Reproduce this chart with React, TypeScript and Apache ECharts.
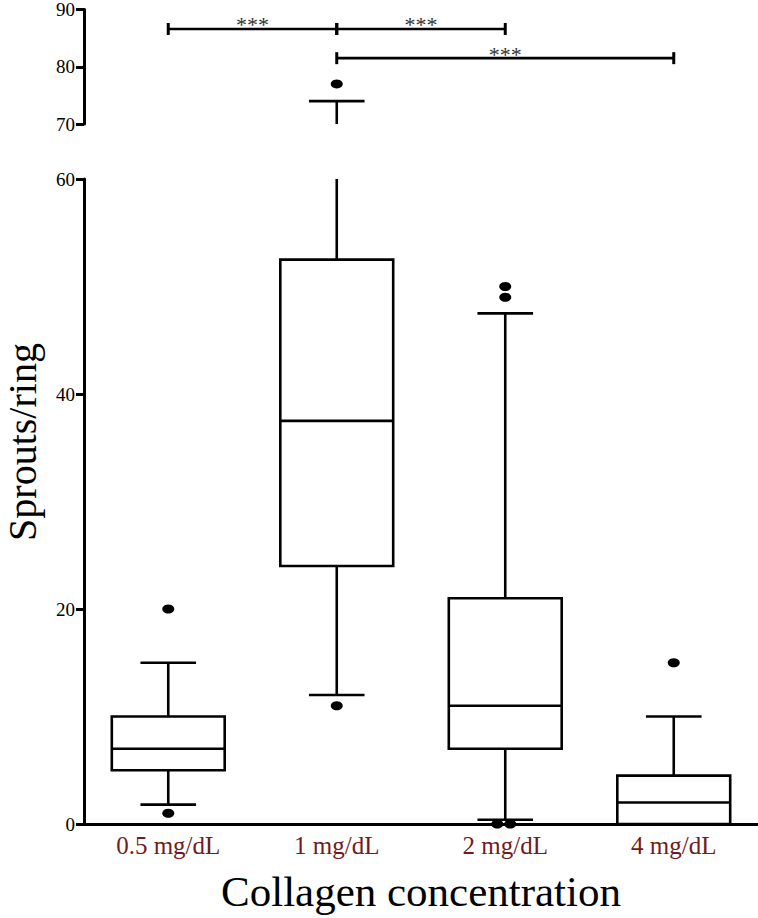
import React, { useEffect, useRef } from 'react';
import * as echarts from 'echarts';

// ---- data ----
const categories = ['0.5 mg/dL', '1 mg/dL', '2 mg/dL', '4 mg/dL'];
const whiskerLow = [1.8, 12, 0.4, 0];
const q1 = [5, 24, 7, 0];
const median = [7, 37.5, 11, 2];
const q3 = [10, 52.5, 21, 4.5];
const whiskerHigh = [15, 74, 47.5, 10];

const outlierCategory = [0, 0, 1, 1, 2, 2, 2, 2, 3];
const outlierValue = [20, 1, 77, 11, 50, 49, 0, 0, 15];

const lowerMin = 0;
const lowerMax = 60;
const lowerInterval = 20;
const upperMin = 70;
const upperMax = 90;
const upperInterval = 10;

const bracketFrom = [0, 1, 1];
const bracketTo = [1, 2, 3];
const bracketValue = [86.6, 86.6, 81.5];
const bracketLabel = ['***', '***', '***'];

const xTitle = 'Collagen concentration';
const yTitle = 'Sprouts/ring';

// ---- style ----
const FONT = '"Liberation Serif", "Times New Roman", serif';
const LW = 2.6;
const jitterPx: Record<number, number> = { 6: -8, 7: 5 };

export default function App() {
  const ref = useRef<HTMLDivElement>(null);

  useEffect(() => {
    if (!ref.current) return;
    const chart = echarts.init(ref.current, undefined, { renderer: 'svg' });

    const boxData = categories.map((_, i) => [i, whiskerLow[i], q1[i], median[i], q3[i], whiskerHigh[i]]);

    const lineStyle = { stroke: '#000', lineWidth: LW };

    const renderLower = (params: any, api: any) => {
      const i = api.value(0);
      const lo = api.value(1), b1 = api.value(2), md = api.value(3), b3 = api.value(4), hi = api.value(5);
      const band = api.size([1, 0])[0];
      const bw = band * 0.67;
      const cw = band * 0.33;
      const pLo = api.coord([i, lo]);
      const p1 = api.coord([i, b1]);
      const pm = api.coord([i, md]);
      const p3 = api.coord([i, b3]);
      const pHi = api.coord([i, Math.min(hi, lowerMax)]);
      const x = p1[0];
      const children: any[] = [];
      children.push({ type: 'line', shape: { x1: x, y1: p3[1], x2: x, y2: pHi[1] }, style: lineStyle });
      if (hi <= lowerMax) {
        children.push({ type: 'line', shape: { x1: x - cw / 2, y1: pHi[1], x2: x + cw / 2, y2: pHi[1] }, style: lineStyle });
      }
      if (lo < b1) {
        children.push({ type: 'line', shape: { x1: x, y1: p1[1], x2: x, y2: pLo[1] }, style: lineStyle });
        children.push({ type: 'line', shape: { x1: x - cw / 2, y1: pLo[1], x2: x + cw / 2, y2: pLo[1] }, style: lineStyle });
      }
      children.push({
        type: 'rect',
        shape: { x: x - bw / 2, y: p3[1], width: bw, height: p1[1] - p3[1] },
        style: { stroke: '#000', lineWidth: LW, fill: '#fff' },
      });
      children.push({ type: 'line', shape: { x1: x - bw / 2, y1: pm[1], x2: x + bw / 2, y2: pm[1] }, style: lineStyle });
      return { type: 'group', children };
    };

    const renderUpper = (params: any, api: any) => {
      const i = api.value(0);
      const b3 = api.value(4), hi = api.value(5);
      if (hi <= upperMin) return { type: 'group', children: [] };
      const band = api.size([1, 0])[0];
      const cw = band * 0.33;
      const pA = api.coord([i, Math.max(b3, upperMin)]);
      const pHi = api.coord([i, hi]);
      const x = pA[0];
      return {
        type: 'group',
        children: [
          { type: 'line', shape: { x1: x, y1: pA[1], x2: x, y2: pHi[1] }, style: lineStyle },
          { type: 'line', shape: { x1: x - cw / 2, y1: pHi[1], x2: x + cw / 2, y2: pHi[1] }, style: lineStyle },
        ],
      };
    };

    const bracketData = bracketFrom.map((f, k) => [f, bracketTo[k], bracketValue[k]]);
    const renderBracket = (params: any, api: any) => {
      const a = api.coord([api.value(0), api.value(2)]);
      const b = api.coord([api.value(1), api.value(2)]);
      const h = 6;
      return {
        type: 'group',
        children: [
          { type: 'line', shape: { x1: a[0], y1: a[1], x2: b[0], y2: b[1] }, style: lineStyle },
          { type: 'line', shape: { x1: a[0], y1: a[1] - h, x2: a[0], y2: a[1] + h }, style: { stroke: '#000', lineWidth: 3 } },
          { type: 'line', shape: { x1: b[0], y1: b[1] - h, x2: b[0], y2: b[1] + h }, style: { stroke: '#000', lineWidth: 3 } },
          {
            type: 'text',
            x: (a[0] + b[0]) / 2,
            y: a[1] - 4,
            style: {
              text: bracketLabel[params.dataIndex],
              fontSize: 22,
              fontFamily: FONT,
              fill: '#333',
              align: 'center',
              verticalAlign: 'middle',
            },
          },
        ],
      };
    };

    const lowerOutliers: any[] = [];
    const upperOutliers: any[] = [];
    outlierValue.forEach((v, k) => {
      const item: any = { value: [outlierCategory[k], v] };
      if (jitterPx[k]) item.symbolOffset = [jitterPx[k], 0];
      if (v <= lowerMax) lowerOutliers.push(item);
      else upperOutliers.push(item);
    });

    const yAxisCommon = {
      type: 'value',
      splitLine: { show: false },
      axisLine: { show: true, lineStyle: { color: '#000', width: 3 } },
      axisTick: { show: true, length: 8, lineStyle: { color: '#000', width: 3 } },
      axisLabel: { fontSize: 19, fontFamily: FONT, color: '#000', margin: 9 },
    };

    chart.setOption({
      animation: false,
      grid: [
        { left: 84, right: 0, top: 179, bottom: 88 },
        { left: 84, right: 0, top: 9, height: 115 },
      ],
      xAxis: [
        {
          type: 'category',
          gridIndex: 0,
          data: categories,
          axisLine: { lineStyle: { color: '#000', width: 3 } },
          axisTick: { alignWithLabel: true, length: 7, lineStyle: { color: '#000', width: 3 } },
          axisLabel: { fontSize: 25, fontFamily: FONT, color: '#701c1c', margin: 9 },
          name: xTitle,
          nameLocation: 'middle',
          nameGap: 46,
          nameTextStyle: { fontSize: 43, fontFamily: FONT, color: '#000' },
        },
        { type: 'category', gridIndex: 1, data: categories, show: false },
      ],
      yAxis: [
        { ...yAxisCommon, gridIndex: 0, min: lowerMin, max: lowerMax, interval: lowerInterval },
        { ...yAxisCommon, gridIndex: 1, min: upperMin, max: upperMax, interval: upperInterval },
      ],
      graphic: [
        {
          type: 'text',
          x: 22,
          y: 442,
          rotation: Math.PI / 2,
          style: {
            text: yTitle,
            fontSize: 40,
            fontFamily: FONT,
            fill: '#000',
            align: 'center',
            verticalAlign: 'middle',
          },
        },
      ],
      series: [
        {
          type: 'custom',
          xAxisIndex: 0,
          yAxisIndex: 0,
          data: boxData,
          encode: { x: 0, y: [1, 2, 3, 4, 5] },
          renderItem: renderLower,
          z: 3,
        },
        {
          type: 'custom',
          xAxisIndex: 1,
          yAxisIndex: 1,
          data: boxData,
          encode: { x: 0, y: [1, 2, 3, 4, 5] },
          renderItem: renderUpper,
          z: 3,
        },
        {
          type: 'scatter',
          xAxisIndex: 0,
          yAxisIndex: 0,
          data: lowerOutliers,
          symbol: 'circle',
          symbolSize: [12, 9],
          itemStyle: { color: '#000', opacity: 1 },
          z: 4,
        },
        {
          type: 'scatter',
          xAxisIndex: 1,
          yAxisIndex: 1,
          data: upperOutliers,
          symbol: 'circle',
          symbolSize: [12, 9],
          itemStyle: { color: '#000', opacity: 1 },
          z: 4,
        },
        {
          type: 'custom',
          xAxisIndex: 1,
          yAxisIndex: 1,
          data: bracketData,
          encode: { x: [0, 1], y: 2 },
          renderItem: renderBracket,
          z: 5,
        },
      ],
    });

    return () => chart.dispose();
  }, []);

  return <div ref={ref} style={{ position: 'absolute', left: 0, top: 0, width: 758, height: 918 }} />;
}
